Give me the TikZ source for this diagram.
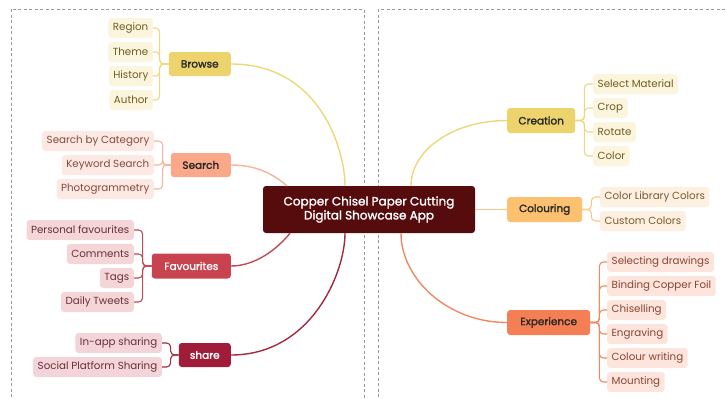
\documentclass[tikz,border=0pt]{standalone}
\usepackage{fontspec}
\setmainfont{Poppins}
\newfontfamily\midfont{Poppins}[FakeBold=1.6]
\definecolor{rootc}{HTML}{560B0D}
\definecolor{yelfill}{HTML}{EDD36B}
\definecolor{yelline}{HTML}{EED77A}
\definecolor{yelleaf}{HTML}{FCF5DE}
\definecolor{yeltext}{HTML}{6E5D1F}
\definecolor{salfill}{HTML}{F9A88A}
\definecolor{salline}{HTML}{F7B39B}
\definecolor{salleaf}{HTML}{FDE9E3}
\definecolor{saltext}{HTML}{87493A}
\definecolor{favfill}{HTML}{C8434F}
\definecolor{favline}{HTML}{C24A55}
\definecolor{favleaf}{HTML}{F5D6D8}
\definecolor{favtext}{HTML}{6A2F36}
\definecolor{shrfill}{HTML}{A11C38}
\definecolor{shrline}{HTML}{A02A40}
\definecolor{shrleaf}{HTML}{F3D5D9}
\definecolor{orafill}{HTML}{FBC070}
\definecolor{oraline}{HTML}{F9C68A}
\definecolor{oraleaf}{HTML}{FEF0E0}
\definecolor{oratext}{HTML}{7A5A33}
\definecolor{expfill}{HTML}{F47F55}
\definecolor{expline}{HTML}{EE8A63}
\definecolor{expleaf}{HTML}{FDE5DD}
\definecolor{exptext}{HTML}{8A4430}
\tikzset{
  frame/.style={draw=black!40, line width=0.8pt, dash pattern=on 3pt off 2.5pt},
  topic/.style={rounded corners=3pt, minimum height=24pt, inner xsep=4pt, inner ysep=0pt, font=\fontsize{10.5}{12}\midfont, text=black!85},
  leaf/.style={rounded corners=3pt, minimum height=20pt, inner xsep=4.5pt, inner ysep=0pt, font=\fontsize{10.3}{11}\selectfont},
  link/.style={line width=1.4pt},
  twig/.style={line width=1.1pt, rounded corners=4pt},
}
\begin{document}
\begin{tikzpicture}[x=1pt,y=-1pt]
\useasboundingbox (0,0) rectangle (726,399);
\clip (0,0) rectangle (726,399);
\draw[frame] (11,9) rectangle (364,420);
\draw[frame] (378,9) rectangle (740,420);
% centre
\node[fill=rootc, text=white, rounded corners=3pt, minimum width=212pt, minimum height=47pt, align=center, font=\fontsize{12}{14}\midfont] (root) at (369,209.5) {Copper Chisel Paper Cutting\\Digital Showcase App};
% left topics
\node[topic, fill=yelfill, minimum width=62pt, anchor=east] (browse) at (231,64) {Browse};
\node[topic, fill=salfill, minimum width=60pt, anchor=east] (search) at (231,165) {Search};
\node[topic, fill=favfill, text=white, minimum width=79pt, minimum height=25pt, anchor=east] (favourites) at (231,266) {Favourites};
\node[topic, fill=shrfill, text=white, minimum width=52pt, anchor=east] (share) at (231,355) {share};
% right topics
\node[topic, fill=yelfill, minimum width=68pt, minimum height=25pt, anchor=west] (creation) at (507,120.5) {Creation};
\node[topic, fill=orafill, minimum width=75pt, minimum height=25pt, anchor=west] (colouring) at (507,209.5) {Colouring};
\node[topic, fill=expfill, minimum width=83pt, minimum height=25pt, anchor=west] (experience) at (507,322.5) {Experience};
% browse leaves
\node[leaf, fill=yelleaf, text=yeltext, anchor=east] (region) at (153,28) {Region};
\node[leaf, fill=yelleaf, text=yeltext, anchor=east] (theme) at (153,52) {Theme};
\node[leaf, fill=yelleaf, text=yeltext, anchor=east] (history) at (153,76) {History};
\node[leaf, fill=yelleaf, text=yeltext, anchor=east] (author) at (153,100) {Author};
% search leaves
\node[leaf, fill=salleaf, text=saltext, anchor=east] (bycat) at (154,141) {Search by Category};
\node[leaf, fill=salleaf, text=saltext, anchor=east] (keyword) at (154,165) {Keyword Search};
\node[leaf, fill=salleaf, text=saltext, anchor=east] (photo) at (154,189) {Photogrammetry};
% favourites leaves
\node[leaf, fill=favleaf, text=favtext, anchor=east] (personal) at (134,230) {Personal favourites};
\node[leaf, fill=favleaf, text=favtext, anchor=east] (comments) at (134,254) {Comments};
\node[leaf, fill=favleaf, text=favtext, anchor=east] (tags) at (134,278) {Tags};
\node[leaf, fill=favleaf, text=favtext, anchor=east] (tweets) at (134,302) {Daily Tweets};
% share leaves
\node[leaf, fill=shrleaf, text=favtext, anchor=east] (inapp) at (162,343) {In-app sharing};
\node[leaf, fill=shrleaf, text=favtext, anchor=east] (social) at (162,367) {Social Platform Sharing};
% creation leaves
\node[leaf, fill=yelleaf, text=yeltext, anchor=west] (material) at (593,84) {Select Material};
\node[leaf, fill=yelleaf, text=yeltext, anchor=west] (crop) at (593,108) {Crop};
\node[leaf, fill=yelleaf, text=yeltext, anchor=west] (rotate) at (593,132) {Rotate};
\node[leaf, fill=yelleaf, text=yeltext, anchor=west] (color) at (593,156) {Color};
% colouring leaves
\node[leaf, fill=oraleaf, text=oratext, anchor=west] (library) at (600,197) {Color Library Colors};
\node[leaf, fill=oraleaf, text=oratext, anchor=west] (custom) at (600,221) {Custom Colors};
% experience leaves
\node[leaf, fill=expleaf, text=exptext, anchor=west] (selecting) at (607,262) {Selecting drawings};
\node[leaf, fill=expleaf, text=exptext, anchor=west] (binding) at (607,286) {Binding Copper Foil};
\node[leaf, fill=expleaf, text=exptext, anchor=west] (chiselling) at (607,310) {Chiselling};
\node[leaf, fill=expleaf, text=exptext, anchor=west] (engraving) at (607,334) {Engraving};
\node[leaf, fill=expleaf, text=exptext, anchor=west] (writing) at (607,358) {Colour writing};
\node[leaf, fill=expleaf, text=exptext, anchor=west] (mounting) at (607,382) {Mounting};
% links to the centre
\draw[link, yelline] (browse.east) .. controls +(89,0) and +(0,-36) .. ([xshift=-24pt]root.north);
\draw[link, salline] (search.east) .. controls +(28,0) and +(-12,-10) .. ([xshift=-82pt]root.north);
\draw[link, favline] (favourites.east) .. controls +(25,0) and +(-12,15) .. ([xshift=-79pt]root.south);
\draw[link, shrline] (share.east) .. controls +(80,0) and +(0,40) .. ([xshift=-24pt]root.south);
\draw[link, yelline] (creation.west) .. controls +(-55,0) and +(0,-35) .. ([xshift=42pt]root.north);
\draw[link, oraline] (root.east) -- (colouring.west);
\draw[link, expline] ([xshift=32pt]root.south) .. controls +(0,45) and +(-60,0) .. (experience.west);
% brackets
\foreach \l in {region,theme,history,author}
  \draw[twig, yelline] (browse.west) -- ++(-9,0) |- (\l.east);
\foreach \l in {bycat,keyword,photo}
  \draw[twig, salline] (search.west) -- ++(-8,0) |- (\l.east);
\foreach \l in {personal,comments,tags,tweets}
  \draw[twig, favline] (favourites.west) -- ++(-9,0) |- (\l.east);
\foreach \l in {inapp,social}
  \draw[twig, shrline] (share.west) -- ++(-8,0) |- (\l.east);
\foreach \l in {material,crop,rotate,color}
  \draw[twig, yelline] (creation.east) -- ++(9,0) |- (\l.west);
\foreach \l in {library,custom}
  \draw[twig, oraline] (colouring.east) -- ++(9,0) |- (\l.west);
\foreach \l in {selecting,binding,chiselling,engraving,writing,mounting}
  \draw[twig, expline] (experience.east) -- ++(9,0) |- (\l.west);
\end{tikzpicture}
\end{document}
